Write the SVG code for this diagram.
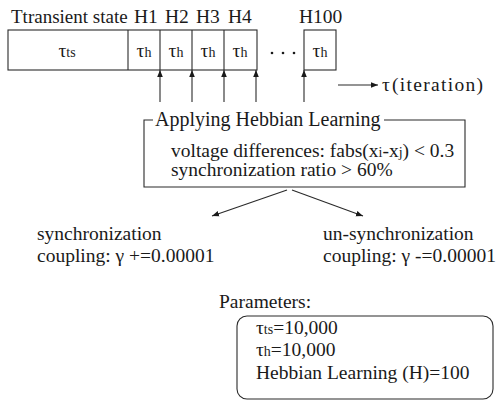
<svg xmlns="http://www.w3.org/2000/svg" width="498" height="405" viewBox="0 0 498 405">
<style>
text{font-family:"Liberation Serif","Times New Roman",serif;font-size:19.5px;fill:#1a1a1a}
.sub{font-size:14px}
.ttl{font-size:20px}
.ln{stroke:#2a2a2a;stroke-width:1.1;fill:none}
.box{stroke:#2a2a2a;stroke-width:1.1;fill:#fff}
</style>
<defs>
<marker id="ah" viewBox="0 0 10 10" refX="10" refY="5" markerWidth="7" markerHeight="7" markerUnits="userSpaceOnUse" orient="auto">
<path d="M0,1 L10,5 L0,9 z" fill="#1a1a1a"/>
</marker>
</defs>
<rect width="498" height="405" fill="#fff"/>
<g id="timeline">
<text x="11" y="23" style="font-size:19px">Ttransient state</text>
<text x="134" y="23">H1</text>
<text x="165" y="23">H2</text>
<text x="196" y="23">H3</text>
<text x="228" y="23">H4</text>
<text x="299" y="23">H100</text>
<rect class="box" x="8" y="30" width="249" height="40"/>
<line class="ln" x1="128" y1="30" x2="128" y2="70"/>
<line class="ln" x1="160" y1="30" x2="160" y2="70"/>
<line class="ln" x1="192" y1="30" x2="192" y2="70"/>
<line class="ln" x1="224" y1="30" x2="224" y2="70"/>
<rect class="box" x="304" y="30" width="32" height="40"/>
<text x="67" y="57" text-anchor="middle">τ<tspan class="sub">ts</tspan></text>
<text x="144" y="57" text-anchor="middle">τ<tspan class="sub">h</tspan></text>
<text x="176" y="57" text-anchor="middle">τ<tspan class="sub">h</tspan></text>
<text x="208" y="57" text-anchor="middle">τ<tspan class="sub">h</tspan></text>
<text x="240" y="57" text-anchor="middle">τ<tspan class="sub">h</tspan></text>
<text x="320" y="57" text-anchor="middle">τ<tspan class="sub">h</tspan></text>
<circle cx="272" cy="53" r="1.3" fill="#1a1a1a"/>
<circle cx="283" cy="53" r="1.3" fill="#1a1a1a"/>
<circle cx="294" cy="53" r="1.3" fill="#1a1a1a"/>
<text x="382" y="91">τ</text>
<text x="392" y="91" textLength="91" lengthAdjust="spacing">(iteration)</text>
</g>
<g id="hebbian">
<path class="ln" d="M153,120 H144 V187 H465 V120 H384"/>
<text class="ttl" x="155" y="126">Applying Hebbian Learning</text>
<text x="171" y="157">voltage differences: fabs(x<tspan class="sub">i</tspan>-x<tspan class="sub">j</tspan>) &lt; 0.3</text>
<text x="171" y="176">synchronization ratio &gt; 60%</text>
</g>
<g id="sync">
<text x="37" y="240">synchronization</text>
<text x="37" y="262">coupling: γ +=0.00001</text>
</g>
<g id="unsync">
<text x="323" y="240">un-synchronization</text>
<text x="323" y="262">coupling: γ -=0.00001</text>
</g>
<g id="params">
<text x="219" y="308">Parameters:</text>
<rect class="box" x="237" y="316" width="256" height="83" rx="10"/>
<text x="256" y="334">τ<tspan class="sub">ts</tspan>=10,000</text>
<text x="256" y="356">τ<tspan class="sub">h</tspan>=10,000</text>
<text x="256" y="379">Hebbian Learning (H)=100</text>
</g>
<g id="connectors">
<line class="ln" x1="160" y1="102" x2="160" y2="70" marker-end="url(#ah)"/>
<line class="ln" x1="192" y1="102" x2="192" y2="70" marker-end="url(#ah)"/>
<line class="ln" x1="224" y1="102" x2="224" y2="70" marker-end="url(#ah)"/>
<line class="ln" x1="256" y1="102" x2="256" y2="70" marker-end="url(#ah)"/>
<line class="ln" x1="304" y1="102" x2="304" y2="70" marker-end="url(#ah)"/>
<line class="ln" x1="338" y1="85" x2="378" y2="85" marker-end="url(#ah)"/>
<line class="ln" x1="287" y1="190" x2="212" y2="216" marker-end="url(#ah)"/>
<line class="ln" x1="292" y1="190" x2="363" y2="216" marker-end="url(#ah)"/>
</g>
</svg>
